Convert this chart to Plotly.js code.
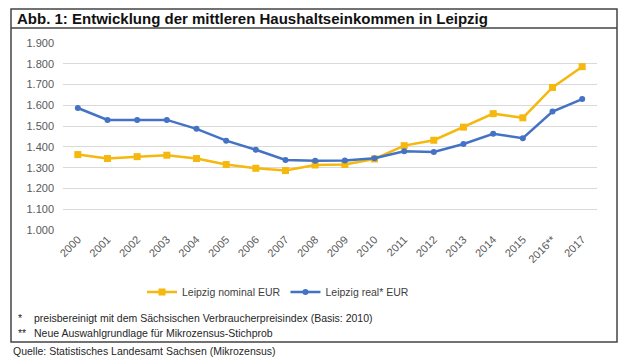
<!DOCTYPE html>
<html>
<head>
<meta charset="utf-8">
<script src="https://cdn.plot.ly/plotly-3.0.1.min.js"></script>
<style>
html,body{margin:0;padding:0;background:#fff;}
#chart{width:620px;height:360px;}
</style>
</head>
<body>
<div id="chart"></div>
<script>
// ---- data ----
const years = ["2000","2001","2002","2003","2004","2005","2006","2007","2008","2009","2010","2011","2012","2013","2014","2015","2016**","2017"];
const nominal = [1363,1344,1353,1360,1344,1315,1297,1286,1313,1315,1342,1406,1432,1495,1560,1540,1686,1786];
const real = [1587,1530,1529,1530,1487,1430,1386,1337,1333,1334,1345,1379,1376,1414,1463,1442,1570,1630];
const yTicks = [1000,1100,1200,1300,1400,1500,1600,1700,1800,1900];
const seriesNames = ["Leipzig nominal EUR","Leipzig real* EUR"];
const titleText = "Abb. 1: Entwicklung der mittleren Haushaltseinkommen in Leipzig";
const note1 = "preisbereinigt mit dem Sächsischen Verbraucherpreisindex (Basis: 2010)";
const note2 = "Neue Auswahlgrundlage für Mikrozensus-Stichprob";
const source = "Quelle: Statistisches Landesamt Sachsen (Mikrozensus)";

// ---- layout helpers (pixel -> paper) ----
const M = {l:63, r:23, t:43, b:130};
const W = 620, H = 360;
const pw = W - M.l - M.r, ph = H - M.t - M.b;
const px = x => (x - M.l) / pw;
const py = y => (H - M.b - y) / ph;

const FONT = "Liberation Sans, Arial, sans-serif";
const yellow = "#F4B80F";
const blue = "#4472C4";

const traces = [
  {x: years, y: nominal, name: seriesNames[0], type: "scatter", mode: "lines+markers",
   line: {color: yellow, width: 2.5}, marker: {symbol: "square", size: 7, color: yellow}},
  {x: years, y: real, name: seriesNames[1], type: "scatter", mode: "lines+markers",
   line: {color: blue, width: 2.5}, marker: {symbol: "circle", size: 6, color: blue}}
];

const borderColor = "#444";
const shapes = [
  {type:"rect", xref:"paper", yref:"paper", x0:px(11), x1:px(617), y0:py(9), y1:py(342),
   line:{color:borderColor, width:1.5}, fillcolor:"rgba(0,0,0,0)", layer:"above"},
  {type:"line", xref:"paper", yref:"paper", x0:px(11), x1:px(617), y0:py(28), y1:py(28),
   line:{color:borderColor, width:1.5}}
];

const annFont = {family: FONT, size: 10.5, color: "#262626"};
const annotations = [
  {xref:"paper", yref:"paper", x:px(16), y:py(318), text:"*", showarrow:false, xanchor:"left", yanchor:"middle", font:annFont},
  {xref:"paper", yref:"paper", x:px(32), y:py(318), text:note1, showarrow:false, xanchor:"left", yanchor:"middle", font:annFont},
  {xref:"paper", yref:"paper", x:px(16), y:py(333), text:"**", showarrow:false, xanchor:"left", yanchor:"middle", font:annFont},
  {xref:"paper", yref:"paper", x:px(32), y:py(333), text:note2, showarrow:false, xanchor:"left", yanchor:"middle", font:annFont},
  {xref:"paper", yref:"paper", x:px(11), y:py(351), text:source, showarrow:false, xanchor:"left", yanchor:"middle", font:annFont}
];

const layout = {
  width: W, height: H,
  margin: M,
  paper_bgcolor: "#fff", plot_bgcolor: "#fff",
  separators: ",.",
  font: {family: FONT, size: 11, color: "#595959"},
  title: {text: titleText, xref:"container", yref:"container", x: 17/W, xanchor:"left",
          y: 1 - 18.5/H, yanchor:"middle", font:{family: FONT, size: 15, color:"#111", weight: "bold"}},
  xaxis: {type:"category", range:[-0.5, 17.5], tickangle:-45, showgrid:false, zeroline:false,
          showline:false, ticks:"", tickfont:{family: FONT, size: 11, color:"#595959"}, fixedrange:true},
  yaxis: {range:[1000, 1900], tickvals: yTicks, tickformat:",d", showgrid:true, gridcolor:"#d9d9d9",
          gridwidth:1, zeroline:false, showline:false, ticks:"", ticklabelstandoff: 8,
          tickfont:{family: FONT, size: 11, color:"#595959"}, fixedrange:true},
  showlegend: true,
  legend: {orientation:"h", xref:"container", yref:"container", x: 142/W, xanchor:"left",
           y: 1 - 292/H, yanchor:"middle", font:{family: FONT, size: 10.5, color:"#404040"},
           itemwidth: 30, tracegroupgap: 0, bgcolor:"rgba(0,0,0,0)"},
  shapes: shapes,
  annotations: annotations
};

Plotly.newPlot("chart", traces, layout, {displayModeBar:false, staticPlot:true});
</script>
</body>
</html>
